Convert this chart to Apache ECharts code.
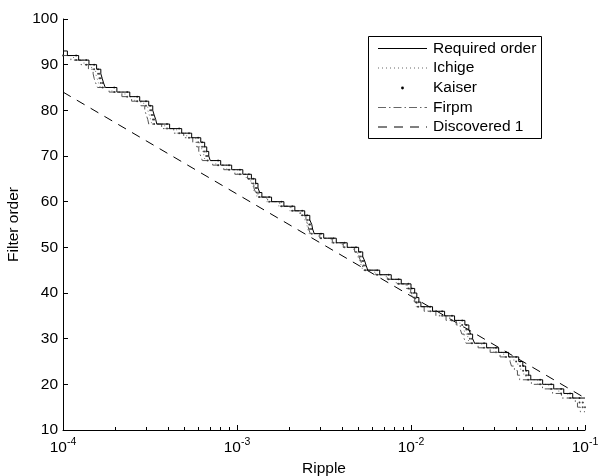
<!DOCTYPE html>
<html>
<head>
<meta charset="utf-8">
<script src="https://cdn.jsdelivr.net/npm/echarts@6/dist/echarts.min.js"></script>
<style>
  html, body { margin: 0; padding: 0; background: #fff; }
  #chart { width: 599px; height: 476px; }
</style>
</head>
<body>
<div id="chart"></div>
<script>
// ripple where each filter order starts, [ripple, order]
const required = [
  [1.00e-4, 93], [1.06e-4, 92], [1.23e-4, 91], [1.41e-4, 90], [1.56e-4, 89], [1.65e-4, 88], [1.68e-4, 87], [1.71e-4, 86],
  [1.75e-4, 85], [2.04e-4, 84], [2.42e-4, 83], [2.76e-4, 82], [3.11e-4, 81], [3.28e-4, 80], [3.34e-4, 79], [3.41e-4, 78],
  [3.46e-4, 77], [4.10e-4, 76], [4.81e-4, 75], [5.49e-4, 74], [6.19e-4, 73], [6.52e-4, 72], [6.70e-4, 71], [6.88e-4, 70],
  [7.02e-4, 69], [8.06e-4, 68], [9.32e-4, 67], [1.08e-3, 66], [1.21e-3, 65], [1.28e-3, 64], [1.32e-3, 63], [1.35e-3, 62],
  [1.39e-3, 61], [1.58e-3, 60], [1.86e-3, 59], [2.15e-3, 58], [2.45e-3, 57], [2.62e-3, 56], [2.69e-3, 55], [2.72e-3, 54],
  [2.78e-3, 53], [3.15e-3, 52], [3.72e-3, 51], [4.30e-3, 50], [5.00e-3, 49], [5.28e-3, 48], [5.42e-3, 47], [5.53e-3, 46],
  [5.64e-3, 45], [6.61e-3, 44], [7.70e-3, 43], [8.79e-3, 42], [1.00e-2, 41], [1.05e-2, 40], [1.08e-2, 39], [1.11e-2, 38],
  [1.14e-2, 37], [1.33e-2, 36], [1.56e-2, 35], [1.78e-2, 34], [2.04e-2, 33], [2.15e-2, 32], [2.20e-2, 31], [2.26e-2, 30],
  [2.32e-2, 29], [2.72e-2, 28], [3.19e-2, 27], [3.64e-2, 26], [4.16e-2, 25], [4.39e-2, 24], [4.56e-2, 23], [4.75e-2, 22],
  [4.88e-2, 21], [5.71e-2, 20], [6.61e-2, 19], [7.55e-2, 18], [8.50e-2, 17], [1.00e-1, 17]
]

const ichige = [
  [1.00e-4, 92], [1.15e-4, 91], [1.32e-4, 90], [1.46e-4, 89], [1.54e-4, 88], [1.57e-4, 87], [1.60e-4, 86], [1.64e-4, 85],
  [1.91e-4, 84], [2.27e-4, 83], [2.58e-4, 82], [2.91e-4, 81], [3.07e-4, 80], [3.13e-4, 79], [3.19e-4, 78], [3.24e-4, 77],
  [3.84e-4, 76], [4.50e-4, 75], [5.14e-4, 74], [5.80e-4, 73], [6.10e-4, 72], [6.27e-4, 71], [6.44e-4, 70], [6.57e-4, 69],
  [7.55e-4, 68], [8.73e-4, 67], [1.01e-3, 66], [1.13e-3, 65], [1.20e-3, 64], [1.24e-3, 63], [1.26e-3, 62], [1.30e-3, 61],
  [1.48e-3, 60], [1.74e-3, 59], [2.01e-3, 58], [2.29e-3, 57], [2.45e-3, 56], [2.52e-3, 55], [2.55e-3, 54], [2.60e-3, 53],
  [2.95e-3, 52], [3.48e-3, 51], [4.03e-3, 50], [4.68e-3, 49], [4.94e-3, 48], [5.07e-3, 47], [5.18e-3, 46], [5.28e-3, 45],
  [6.19e-3, 44], [7.21e-3, 43], [8.23e-3, 42], [9.36e-3, 41], [9.83e-3, 40], [1.01e-2, 39], [1.04e-2, 38], [1.07e-2, 37],
  [1.25e-2, 36], [1.46e-2, 35], [1.67e-2, 34], [1.91e-2, 33], [2.01e-2, 32], [2.06e-2, 31], [2.12e-2, 30], [2.17e-2, 29],
  [2.55e-2, 28], [2.99e-2, 27], [3.41e-2, 26], [3.90e-2, 25], [4.11e-2, 24], [4.27e-2, 23], [4.45e-2, 22], [4.57e-2, 21],
  [5.35e-2, 20], [6.19e-2, 19], [7.07e-2, 18], [7.96e-2, 17], [9.30e-2, 16], [1.00e-1, 16]
]

const kaiser = [
  [1.00e-4, 92], [1.19e-4, 91], [1.36e-4, 90], [1.51e-4, 89], [1.59e-4, 88], [1.62e-4, 87], [1.65e-4, 86], [1.69e-4, 85],
  [1.97e-4, 84], [2.34e-4, 83], [2.67e-4, 82], [3.00e-4, 81], [3.17e-4, 80], [3.23e-4, 79], [3.29e-4, 78], [3.34e-4, 77],
  [3.96e-4, 76], [4.65e-4, 75], [5.30e-4, 74], [5.98e-4, 73], [6.30e-4, 72], [6.47e-4, 71], [6.65e-4, 70], [6.78e-4, 69],
  [7.79e-4, 68], [9.00e-4, 67], [1.04e-3, 66], [1.17e-3, 65], [1.24e-3, 64], [1.28e-3, 63], [1.30e-3, 62], [1.34e-3, 61],
  [1.53e-3, 60], [1.80e-3, 59], [2.08e-3, 58], [2.37e-3, 57], [2.53e-3, 56], [2.60e-3, 55], [2.63e-3, 54], [2.69e-3, 53],
  [3.04e-3, 52], [3.59e-3, 51], [4.15e-3, 50], [4.83e-3, 49], [5.10e-3, 48], [5.24e-3, 47], [5.34e-3, 46], [5.45e-3, 45],
  [6.39e-3, 44], [7.44e-3, 43], [8.49e-3, 42], [9.66e-3, 41], [1.01e-2, 40], [1.04e-2, 39], [1.07e-2, 38], [1.10e-2, 37],
  [1.29e-2, 36], [1.51e-2, 35], [1.72e-2, 34], [1.97e-2, 33], [2.08e-2, 32], [2.13e-2, 31], [2.18e-2, 30], [2.24e-2, 29],
  [2.63e-2, 28], [3.08e-2, 27], [3.52e-2, 26], [4.02e-2, 25], [4.24e-2, 24], [4.41e-2, 23], [4.59e-2, 22], [4.71e-2, 21],
  [5.52e-2, 20], [6.39e-2, 19], [7.29e-2, 18], [8.21e-2, 17], [9.30e-2, 16], [9.70e-2, 15], [1.00e-1, 15]
]

const firpm = [
  [1.00e-4, 92], [1.11e-4, 91], [1.27e-4, 90], [1.40e-4, 89], [1.49e-4, 88], [1.51e-4, 87], [1.54e-4, 86], [1.58e-4, 85],
  [1.84e-4, 84], [2.18e-4, 83], [2.48e-4, 82], [2.80e-4, 81], [2.95e-4, 80], [3.01e-4, 79], [3.07e-4, 78], [3.11e-4, 77],
  [3.69e-4, 76], [4.33e-4, 75], [4.94e-4, 74], [5.57e-4, 73], [5.87e-4, 72], [6.03e-4, 71], [6.19e-4, 70], [6.32e-4, 69],
  [7.25e-4, 68], [8.39e-4, 67], [9.72e-4, 66], [1.15e-3, 65], [1.21e-3, 64], [1.25e-3, 63], [1.28e-3, 62], [1.32e-3, 61],
  [1.50e-3, 60], [1.76e-3, 59], [2.04e-3, 58], [2.32e-3, 57], [2.49e-3, 56], [2.55e-3, 55], [2.58e-3, 54], [2.64e-3, 53],
  [2.99e-3, 52], [3.53e-3, 51], [4.08e-3, 50], [4.74e-3, 49], [5.01e-3, 48], [5.14e-3, 47], [5.25e-3, 46], [5.35e-3, 45],
  [6.27e-3, 44], [7.31e-3, 43], [8.34e-3, 42], [9.49e-3, 41], [9.96e-3, 40], [1.02e-2, 39], [1.05e-2, 38], [1.08e-2, 37],
  [1.19e-2, 36], [1.39e-2, 35], [1.59e-2, 34], [1.82e-2, 33], [1.92e-2, 32], [1.96e-2, 31], [2.02e-2, 30], [2.07e-2, 29],
  [2.43e-2, 28], [2.85e-2, 27], [3.25e-2, 26], [3.71e-2, 25], [3.78e-2, 24], [3.93e-2, 23], [4.09e-2, 22], [4.21e-2, 21],
  [4.92e-2, 20], [5.70e-2, 19], [6.51e-2, 18], [7.33e-2, 17], [8.80e-2, 16], [9.05e-2, 15], [9.40e-2, 14], [1.00e-1, 14]
]

const discovered = [[1e-4, 84], [1e-1, 17]]

const xMajorTicks = [1e-4, 1e-3, 1e-2, 1e-1]
const xMinorTicks = [
  2e-4, 3e-4, 4e-4, 5e-4, 6e-4, 7e-4, 8e-4, 9e-4,
  2e-3, 3e-3, 4e-3, 5e-3, 6e-3, 7e-3, 8e-3, 9e-3,
  2e-2, 3e-2, 4e-2, 5e-2, 6e-2, 7e-2, 8e-2, 9e-2
]
const legendNames = ['Required order', 'Ichige', 'Kaiser', 'Firpm', 'Discovered 1']

const FONT = 'Liberation Sans, Arial, Helvetica, sans-serif'
const FS = 15.5

// Kaiser is drawn as dots on both ends of each flat step
const kaiserDots = []
for (let i = 0; i < kaiser.length - 1; i++) {
  kaiserDots.push([kaiser[i][0], kaiser[i][1]])
  kaiserDots.push([kaiser[i + 1][0], kaiser[i][1]])
}

const chart = echarts.init(document.getElementById('chart'))

// legend drawn by hand so the samples look like the original
const rowY = [48.5, 68, 88, 107.5, 127]
const sampleStyles = [
  { stroke: '#000', lineWidth: 1 },
  { stroke: '#666', lineWidth: 1, lineDash: [1, 3] },
  null,
  { stroke: '#666', lineWidth: 1, lineDash: [8, 3, 1.5, 3] },
  { stroke: '#000', lineWidth: 1, lineDash: [9, 7] }
]
const legendGraphic = [{
  type: 'rect',
  shape: { x: 368.5, y: 36.5, width: 173, height: 102 },
  style: { fill: '#fff', stroke: '#000', lineWidth: 1 },
  z: 100
}]
legendNames.forEach((name, i) => {
  if (sampleStyles[i]) {
    legendGraphic.push({
      type: 'line',
      shape: { x1: 378, y1: rowY[i], x2: 427, y2: rowY[i] },
      style: sampleStyles[i],
      z: 101
    })
  } else {
    legendGraphic.push({
      type: 'circle',
      shape: { cx: 402.5, cy: rowY[i], r: 1.4 },
      style: { fill: '#000' },
      z: 101
    })
  }
  legendGraphic.push({
    type: 'text',
    x: 433,
    y: rowY[i],
    style: { text: name, font: FS + 'px ' + FONT, fill: '#000', verticalAlign: 'middle' },
    z: 101
  })
})

const option = {
  animation: false,
  backgroundColor: '#fff',
  grid: { left: 63, right: 14, top: 19, bottom: 46, containLabel: false, outerBoundsMode: 'none' },
  xAxis: [
    {
      type: 'log',
      logBase: 10,
      min: 1e-4,
      max: 1e-1,
      position: 'bottom',
      name: 'Ripple',
      nameLocation: 'middle',
      nameGap: 29,
      nameTextStyle: { fontSize: FS, fontFamily: FONT, color: '#000' },
      axisLine: { lineStyle: { color: '#000', width: 1 } },
      axisTick: { inside: true, length: 5, lineStyle: { color: '#000' }, customValues: xMajorTicks },
      axisLabel: {
        margin: 7,
        customValues: xMajorTicks,
        formatter: v => '{b|10}{e|' + Math.round(Math.log10(v)) + '}',
        rich: {
          b: { fontSize: FS, fontFamily: FONT, color: '#000', verticalAlign: 'bottom' },
          e: { fontSize: 10.5, fontFamily: FONT, color: '#000', verticalAlign: 'bottom', padding: [0, 0, 8, 0] }
        }
      },
      splitLine: { show: false },
      minorTick: { show: false }
    },
    {
      type: 'log',
      logBase: 10,
      min: 1e-4,
      max: 1e-1,
      position: 'bottom',
      axisLine: { show: false },
      axisTick: { inside: true, length: 3, lineStyle: { color: '#000' }, customValues: xMinorTicks },
      axisLabel: { show: false },
      splitLine: { show: false }
    }
  ],
  yAxis: {
    type: 'value',
    min: 10,
    max: 100,
    interval: 10,
    name: 'Filter order',
    nameLocation: 'middle',
    nameGap: 34,
    nameTextStyle: { fontSize: FS, fontFamily: FONT, color: '#000' },
    axisLine: { show: true, lineStyle: { color: '#000', width: 1 } },
    axisTick: { show: true, inside: true, length: 5, lineStyle: { color: '#000' } },
    axisLabel: { fontSize: FS, fontFamily: FONT, color: '#000', margin: 5 },
    splitLine: { show: false }
  },
  series: [
    {
      name: 'Discovered 1',
      type: 'line',
      data: discovered,
      showSymbol: false,
      lineStyle: { color: '#000', width: 1, type: [9, 7] },
      z: 2
    },
    {
      name: 'Firpm',
      type: 'line',
      step: 'end',
      data: firpm,
      showSymbol: false,
      lineStyle: { color: '#555', width: 1, type: [8, 3, 1.5, 3] },
      z: 3
    },
    {
      name: 'Ichige',
      type: 'line',
      step: 'end',
      data: ichige,
      showSymbol: false,
      lineStyle: { color: '#777', width: 1, type: [1, 3] },
      z: 4
    },
    {
      name: 'Kaiser',
      type: 'scatter',
      data: kaiserDots,
      symbol: 'circle',
      symbolSize: 2,
      itemStyle: { color: '#222' },
      z: 5
    },
    {
      name: 'Required order',
      type: 'line',
      step: 'end',
      data: required,
      showSymbol: false,
      lineStyle: { color: '#000', width: 1 },
      z: 6
    }
  ],
  graphic: legendGraphic
}

chart.setOption(option)
</script>
</body>
</html>
